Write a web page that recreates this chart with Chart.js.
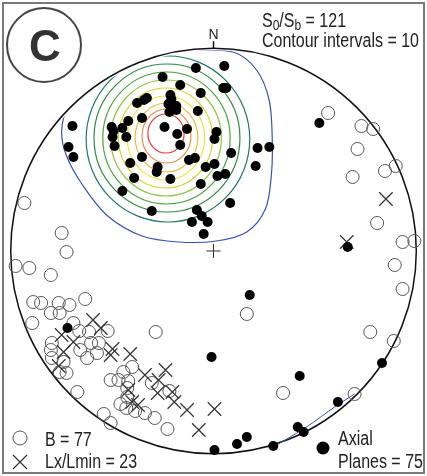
<!DOCTYPE html>
<html>
<head>
<meta charset="utf-8">
<script src="https://cdn.jsdelivr.net/npm/chart.js@4.4.1/dist/chart.umd.min.js"></script>
<style>
html, body { margin: 0; padding: 0; background: #fff; }
</style>
</head>
<body>
<canvas id="net" width="427" height="476"></canvas>
<script>
// net units: centre = (0,0), primitive radius = NET_RADIUS, north up
var NET_RADIUS = 207;

// poles to axial planes (filled dots)
var axialPlanes = [
    [11,185], [-18,183], [-52,174], [-34,166], [10,163], [13,163], [-13,158], [-44,156],
    [-43,152], [-68,153], [-71,151], [-78,148], [-46,147], [-38,145], [-38,141], [-45,139],
    [-16,140], [-73,133], [-87,130], [-50,124], [-27,122], [-37,117], [-34,106], [3,119],
    [1,112], [-144,125], [-104,124], [-102,120], [-103,114], [-93,123], [-89,114], [-101,105],
    [-148,104], [-143,94], [-73,94], [-25,91], [-19,93], [18,98], [45,103], [57,104],
    [108,128], [-85,88], [-57,84], [-58,79], [-81,73], [-44,72], [-93,60], [-63,40],
    [-8,84], [1,87], [4,75], [12,77], [-13,67], [43,85], [17,48], [-17,41],
    [-12,35], [-22,29], [-6,29], [-10,17], [137,4], [37,-44], [-2,-106], [88,-125],
    [172,-112], [127,-151], [86,-176], [92,-181], [34,-186], [24,-193], [1,-199], [61,-195],
    [-149,-77]
];

// B fold axes (open circles)
var bAxes = [
    [117,138], [151,125], [163,122], [147,102], [142,74], [175,80], [186,85], [167,28],
    [193,9], [205,10], [185,-14], [193,-38], [34,-63], [160,-81], [184,-90], [71,-142],
    [144,-143],
    [-193,48], [-155,18], [-150,-1], [-202,-15], [-188,-17], [-166,-24],
    [-131,-48], [-184,-51], [-176,-52], [-158,-52], [-147,-54], [-166,-62], [-157,-62], [-185,-72],
    [-143,-72], [-137,-80], [-127,-81], [-108,-80], [-59,-81], [-125,-92], [-117,-92], [-165,-92],
    [-166,-99], [-136,-99], [-119,-102], [-129,-107], [-165,-107], [-153,-111], [-157,-121], [-150,-122],
    [-139,-141], [-92,-121], [-83,-116], [-105,-129], [-97,-129], [-87,-130], [-88,-137], [-88,-146],
    [-63,-132], [-45,-140], [-95,-153], [-89,-157], [-80,-160], [-70,-162], [-60,-167], [-112,-163],
    [-105,-172], [-47,-178]
];

// Lx / Lmin lineations (crosses)
var lineations = [
    [176,52], [136,9], [-123,-69], [-115,-77], [-155,-84], [-143,-91], [-153,-101], [-158,-115],
    [-103,-98], [-105,-104], [-85,-103], [-70,-124], [-49,-119], [-56,-129], [-87,-139], [-83,-151],
    [-77,-154], [-57,-142], [-42,-141], [-40,-151], [-27,-159], [1,-158], [-15,-179]
];

// lowest contour (blue), traced clockwise from the top
var outerContour = [
    [-25,201], [20,199], [44,181], [57,150], [60,110], [59,75], [53,42], [34,19],
    [3,10], [-35,9], [-73,15], [-108,35], [-133,65], [-150,95], [-155,120], [-148,145],
    [-125,171], [-95,189], [-60,199]
];

// inner contour extents, outermost to innermost (red)
var contourLeft   = [-130, -122, -113, -105, -97, -88, -80, -73, -67];
var contourRight  = [37, 27, 17, 8, -1, -9, -16, -23, -30];
var contourTop    = [195, 187, 179, 171, 163, 155, 148, 142, 137];
var contourBottom = [29, 39, 47, 55, 63, 71, 79, 88, 98];
var contourColors = ['#1f7a5e', '#2e8b3e', '#4aa33a', '#8cc63f', '#cfd62e', '#f0e43a', '#f5b83a', '#f08a4a', '#e8383a'];

// small contour hugging the SE rim
var rimContour = [[61,-196], [95,-176], [125,-155], [144,-143]];

function toXY(list) {
    return list.map(function(p) { return { x: p[0], y: p[1] }; });
}

function narrowText(ctx, text, x, y, size, squeeze) {
    ctx.save();
    ctx.font = size + 'px "Liberation Sans", Arial, sans-serif';
    ctx.translate(x, y);
    ctx.scale(squeeze, 1);
    ctx.fillText(text, 0, 0);
    var w = ctx.measureText(text).width * squeeze;
    ctx.restore();
    return w;
}

// closed catmull-rom curve through pixel points
function closedCurve(ctx, pts) {
    var n = pts.length;
    ctx.beginPath();
    ctx.moveTo(pts[0][0], pts[0][1]);
    for (var i = 0; i < n; i++) {
        var p0 = pts[(i - 1 + n) % n], p1 = pts[i], p2 = pts[(i + 1) % n], p3 = pts[(i + 2) % n];
        ctx.bezierCurveTo(
            p1[0] + (p2[0] - p0[0]) / 6, p1[1] + (p2[1] - p0[1]) / 6,
            p2[0] - (p3[0] - p1[0]) / 6, p2[1] - (p3[1] - p1[1]) / 6,
            p2[0], p2[1]);
    }
    ctx.closePath();
}

var stereonetPlugin = {
    id: 'stereonet',
    beforeDatasetsDraw: function(chart) {
        var ctx = chart.ctx, xs = chart.scales.x, ys = chart.scales.y;
        var cx = xs.getPixelForValue(0), cy = ys.getPixelForValue(0);
        var r = xs.getPixelForValue(NET_RADIUS) - cx;

        // density contours, clipped just inside the primitive
        ctx.save();
        ctx.beginPath();
        ctx.arc(cx, cy, r - 2, 0, Math.PI * 2);
        ctx.clip();
        ctx.lineWidth = 1.2;
        closedCurve(ctx, outerContour.map(function(p) {
            return [xs.getPixelForValue(p[0]), ys.getPixelForValue(p[1])];
        }));
        ctx.strokeStyle = '#3553b3';
        ctx.stroke();
        for (var i = 0; i < contourLeft.length; i++) {
            var x0 = xs.getPixelForValue(contourLeft[i]), x1 = xs.getPixelForValue(contourRight[i]);
            var y0 = ys.getPixelForValue(contourTop[i]), y1 = ys.getPixelForValue(contourBottom[i]);
            ctx.beginPath();
            ctx.ellipse((x0 + x1) / 2, (y0 + y1) / 2, (x1 - x0) / 2, (y1 - y0) / 2, 0, 0, Math.PI * 2);
            ctx.strokeStyle = contourColors[i];
            ctx.stroke();
        }
        ctx.restore();

        // primitive circle + north tick
        ctx.save();
        ctx.strokeStyle = '#111';
        ctx.lineWidth = 1.5;
        ctx.beginPath();
        ctx.arc(cx, cy, r, 0, Math.PI * 2);
        ctx.stroke();
        ctx.beginPath();
        ctx.moveTo(cx, cy - r);
        ctx.lineTo(cx, cy - r - 7);
        ctx.stroke();
        ctx.fillStyle = '#222';
        ctx.font = '14px "Liberation Sans", Arial, sans-serif';
        ctx.textAlign = 'center';
        ctx.fillText('N', cx, cy - r - 9);
        ctx.restore();
    },
    afterDraw: function(chart) {
        var ctx = chart.ctx;
        ctx.save();
        // frame
        ctx.strokeStyle = '#7a7a7a';
        ctx.lineWidth = 2;
        ctx.strokeRect(3, 3, 421, 470);

        // panel letter
        ctx.strokeStyle = '#444';
        ctx.lineWidth = 2;
        ctx.beginPath();
        ctx.arc(44, 45, 37, 0, Math.PI * 2);
        ctx.stroke();
        ctx.fillStyle = '#333';
        ctx.font = 'bold 44px "Liberation Sans", Arial, sans-serif';
        ctx.textAlign = 'center';
        ctx.fillText('C', 45, 61);
        ctx.textAlign = 'left';

        // header text
        ctx.fillStyle = '#222';
        var sq = 0.8, xPos = 262;
        xPos += narrowText(ctx, 'S', xPos, 27, 20, sq);
        xPos += narrowText(ctx, '0', xPos, 30, 15, sq);
        xPos += narrowText(ctx, '/S', xPos, 27, 20, sq);
        xPos += narrowText(ctx, 'b', xPos, 30, 15, sq);
        narrowText(ctx, ' = 121', xPos, 27, 20, sq);
        narrowText(ctx, 'Contour intervals = 10', 262, 47, 20, sq);

        // legend
        ctx.strokeStyle = '#555';
        ctx.lineWidth = 1;
        ctx.beginPath();
        ctx.arc(20, 438, 7, 0, Math.PI * 2);
        ctx.stroke();
        narrowText(ctx, 'B = 77', 45, 446, 20, sq);

        ctx.strokeStyle = '#333';
        ctx.lineWidth = 1.2;
        ctx.beginPath();
        ctx.moveTo(13, 455); ctx.lineTo(27, 469);
        ctx.moveTo(27, 455); ctx.lineTo(13, 469);
        ctx.stroke();
        narrowText(ctx, 'Lx/Lmin = 23', 45, 468, 20, sq);

        ctx.fillStyle = '#000';
        ctx.beginPath();
        ctx.arc(323, 448, 6.5, 0, Math.PI * 2);
        ctx.fill();
        ctx.fillStyle = '#222';
        narrowText(ctx, 'Axial', 338, 445, 20, sq);
        narrowText(ctx, 'Planes = 75', 338, 468, 20, sq);
        ctx.restore();
    }
};

new Chart(document.getElementById('net'), {
    type: 'scatter',
    data: {
        datasets: [
            {
                label: 'Axial planes',
                data: toXY(axialPlanes),
                pointStyle: 'circle',
                pointRadius: 5,
                backgroundColor: '#000',
                borderColor: '#000',
                borderWidth: 0,
                clip: false
            },
            {
                label: 'Lx/Lmin',
                data: toXY(lineations),
                pointStyle: 'crossRot',
                pointRadius: 9.5,
                borderColor: '#333',
                borderWidth: 1.2,
                clip: false
            },
            {
                label: 'B',
                data: toXY(bAxes),
                pointStyle: 'circle',
                pointRadius: 6.5,
                backgroundColor: 'rgba(0,0,0,0)',
                borderColor: '#555',
                borderWidth: 1,
                clip: false
            },
            {
                label: 'centre',
                data: [{ x: 0, y: 0 }],
                pointStyle: 'cross',
                pointRadius: 7,
                borderColor: '#333',
                borderWidth: 1,
                clip: false
            },
            {
                type: 'line',
                label: 'rim contour',
                data: toXY(rimContour),
                borderColor: '#3553b3',
                borderWidth: 1,
                pointRadius: 0,
                tension: 0.3,
                fill: false
            }
        ]
    },
    options: {
        responsive: false,
        animation: false,
        layout: { padding: { left: 8, right: 5, top: 44, bottom: 18 } },
        scales: {
            x: { type: 'linear', min: -NET_RADIUS, max: NET_RADIUS, display: false },
            y: { type: 'linear', min: -NET_RADIUS, max: NET_RADIUS, display: false }
        },
        plugins: {
            legend: { display: false },
            tooltip: { enabled: false }
        },
        events: []
    },
    plugins: [stereonetPlugin]
});
</script>
</body>
</html>
